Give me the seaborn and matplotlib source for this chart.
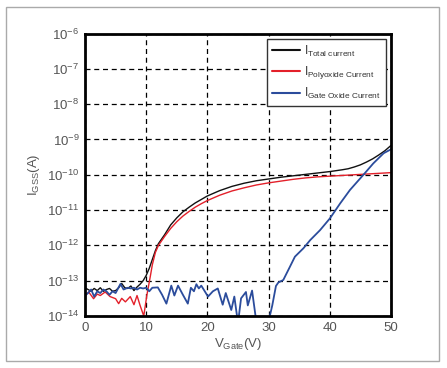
import numpy as np
import pandas as pd
import matplotlib
matplotlib.use("Agg")
import matplotlib.pyplot as plt
import seaborn as sns
from matplotlib.patches import Rectangle

# ---- data (exponents of current in A) ----
total_v = [0, 0.5, 1, 1.5, 2, 2.5, 3, 3.5, 4, 4.5, 5, 5.5, 6, 6.5, 7, 7.5, 8, 8.5, 9,
           9.5, 10, 10.5, 11, 11.5, 12, 13, 14, 15, 16, 17, 18, 19, 20, 22, 24, 26, 28,
           30, 32, 34, 36, 38, 40, 42, 43, 44, 45, 46, 47, 48, 49, 50]
total_log10 = [-13.2, -13.25, -13.3, -13.22, -13.28, -13.2, -13.3, -13.25, -13.22, -13.3,
               -13.28, -13.2, -13.08, -13.2, -13.22, -13.15, -13.28, -13.18, -13.1,
               -13.0, -12.85, -12.65, -12.4, -12.15, -11.95, -11.7, -11.42, -11.22, -11.05,
               -10.92, -10.8, -10.7, -10.6, -10.45, -10.33, -10.24, -10.17,
               -10.12, -10.07, -10.03, -9.99, -9.95, -9.91, -9.86, -9.83, -9.78, -9.72,
               -9.64, -9.55, -9.44, -9.32, -9.17]

poly_v = [0, 0.6, 1.4, 2, 2.5, 3.3, 4.1, 5, 5.5, 6, 6.6, 7.4, 8, 8.5, 9, 9.6, 10.1,
          10.7, 11, 11.5, 12, 13, 14, 15, 16, 17, 18, 19, 20, 22, 24, 26, 28,
          30, 32, 34, 36, 38, 40, 42, 44, 46, 48, 50]
poly_log10 = [-13.42, -13.32, -13.51, -13.38, -13.42, -13.32, -13.45, -13.51, -13.65,
              -13.5, -13.6, -13.45, -13.68, -13.42, -13.7, -14.0, -13.42,
              -12.85, -12.55, -12.2, -12.0, -11.75, -11.52, -11.33, -11.17,
              -11.04, -10.92, -10.82, -10.73, -10.58, -10.46, -10.37, -10.29,
              -10.23, -10.18, -10.13, -10.09, -10.06, -10.04, -10.02, -10.0, -9.98, -9.96, -9.94]

gate_v = [0, 0.5, 1, 1.5, 2, 2.5, 3, 3.5, 4, 4.5, 5, 5.8, 6.3, 7, 7.5, 8, 8.5, 9, 9.5,
          10, 10.5, 11, 11.9, 12.6, 13.3, 14.1, 14.6, 15.2, 16, 16.8, 17.3, 17.8, 18.2,
          18.6, 19.0, 20.1, 20.9, 21.7, 22.5, 23, 23.9, 24.4, 25.0, 25.5, 26.3, 26.6,
          27.3, 28.1, 29.5, 30.2, 30.6, 31.2, 31.6, 32.4, 33.5, 34.3, 35.7, 36.8, 38.4,
          40, 41.7, 43.3, 45.5, 47.1, 48.8, 50]
gate_log10 = [-13.42, -13.35, -13.25, -13.45, -13.3, -13.35, -13.25, -13.3, -13.4, -13.3,
              -13.35, -13.09, -13.25, -13.2, -13.22, -13.2, -13.25, -13.2, -13.22,
              -13.2, -13.3, -13.2, -13.19, -13.4, -13.65, -13.14, -13.42, -13.14, -13.4,
              -13.65, -13.2, -13.3, -13.1, -13.22, -13.14, -13.45, -13.3, -13.22,
              -13.68, -13.35, -13.83, -13.45, -14.2, -13.5, -13.32, -13.7, -13.28,
              -14.3, -15.0, -14.0, -13.7, -13.15, -13.05, -12.98, -12.6, -12.32,
              -12.08, -11.85, -11.57, -11.24, -10.81, -10.43, -10.0, -9.68, -9.39, -9.28]

series_names = [r"I$_{\mathrm{Total\ current}}$",
                r"I$_{\mathrm{Polyoxide\ Current}}$",
                r"I$_{\mathrm{Gate\ Oxide\ Current}}$"]
series_colors = ["#111111", "#e3202a", "#2b4c9c"]

x_ticks = [0, 10, 20, 30, 40, 50]
y_ticks = [1e-14, 1e-13, 1e-12, 1e-11, 1e-10, 1e-9, 1e-8, 1e-7, 1e-6]

# ---- plotting ----
sns.set_style("white")
plt.rcParams["font.family"] = ["Liberation Sans", "DejaVu Sans"]
plt.rcParams["mathtext.fontset"] = "custom"
plt.rcParams["mathtext.rm"] = "Liberation Sans"
plt.rcParams["mathtext.it"] = "Liberation Sans"
plt.rcParams["mathtext.default"] = "regular"

fig = plt.figure(figsize=(4.47, 3.68), dpi=100)
ax = fig.add_axes([85 / 447, 1 - 316 / 368, (391 - 85) / 447, (316 - 33.5) / 368])

frames = []
for name, xs, ls in zip(series_names, [total_v, poly_v, gate_v],
                        [total_log10, poly_log10, gate_log10]):
    frames.append(pd.DataFrame({"V": xs, "I": np.power(10.0, ls), "series": name}))
df = pd.concat(frames, ignore_index=True)

sns.lineplot(data=df, x="V", y="I", hue="series", palette=series_colors,
             estimator=None, sort=False, linewidth=1.0, ax=ax)
# gate-oxide line slightly heavier
ax.get_lines()[2].set_linewidth(1.3)

ax.set_yscale("log")
ax.set_xlim(0, 50)
ax.set_ylim(1e-14, 1e-6)
ax.set_xticks(x_ticks)
ax.set_yticks(y_ticks)
ax.yaxis.set_minor_locator(matplotlib.ticker.NullLocator())
ax.grid(True, which="major", color="black", linestyle=(0, (4, 3)), linewidth=0.9)
for s in ax.spines.values():
    s.set_linewidth(2.0)
    s.set_color("black")
ax.tick_params(axis="both", which="major", direction="in", length=3, width=1,
               labelsize=9.5, colors="black", pad=4)
for lab in ax.get_xticklabels() + ax.get_yticklabels():
    lab.set_color("#555555")

ax.set_xlabel(r"V$_{\mathrm{Gate}}$(V)", fontsize=9.5, color="#555555", labelpad=2)
ax.set_ylabel(r"I$_{\mathrm{GSS}}$(A)", fontsize=9.5, color="#555555", labelpad=4)

leg = ax.legend(loc="upper right", fontsize=8.5, frameon=True, fancybox=False,
                edgecolor="#333333", handlelength=2.4, borderaxespad=0.45,
                labelspacing=0.45, handletextpad=0.35, borderpad=0.4)
leg.get_frame().set_linewidth(1.0)
leg.get_frame().set_alpha(1)
for t in leg.get_texts():
    t.set_color("#333333")
for l in leg.get_lines():
    l.set_linewidth(1.5)

fig.patches.append(Rectangle((5.5 / 447, 1 - 361 / 368), (438.5 - 5.5) / 447,
                             (361 - 6.5) / 368, transform=fig.transFigure,
                             fill=False, edgecolor="#aaaaaa", linewidth=1.0))

fig.savefig("out.png", dpi=100)
